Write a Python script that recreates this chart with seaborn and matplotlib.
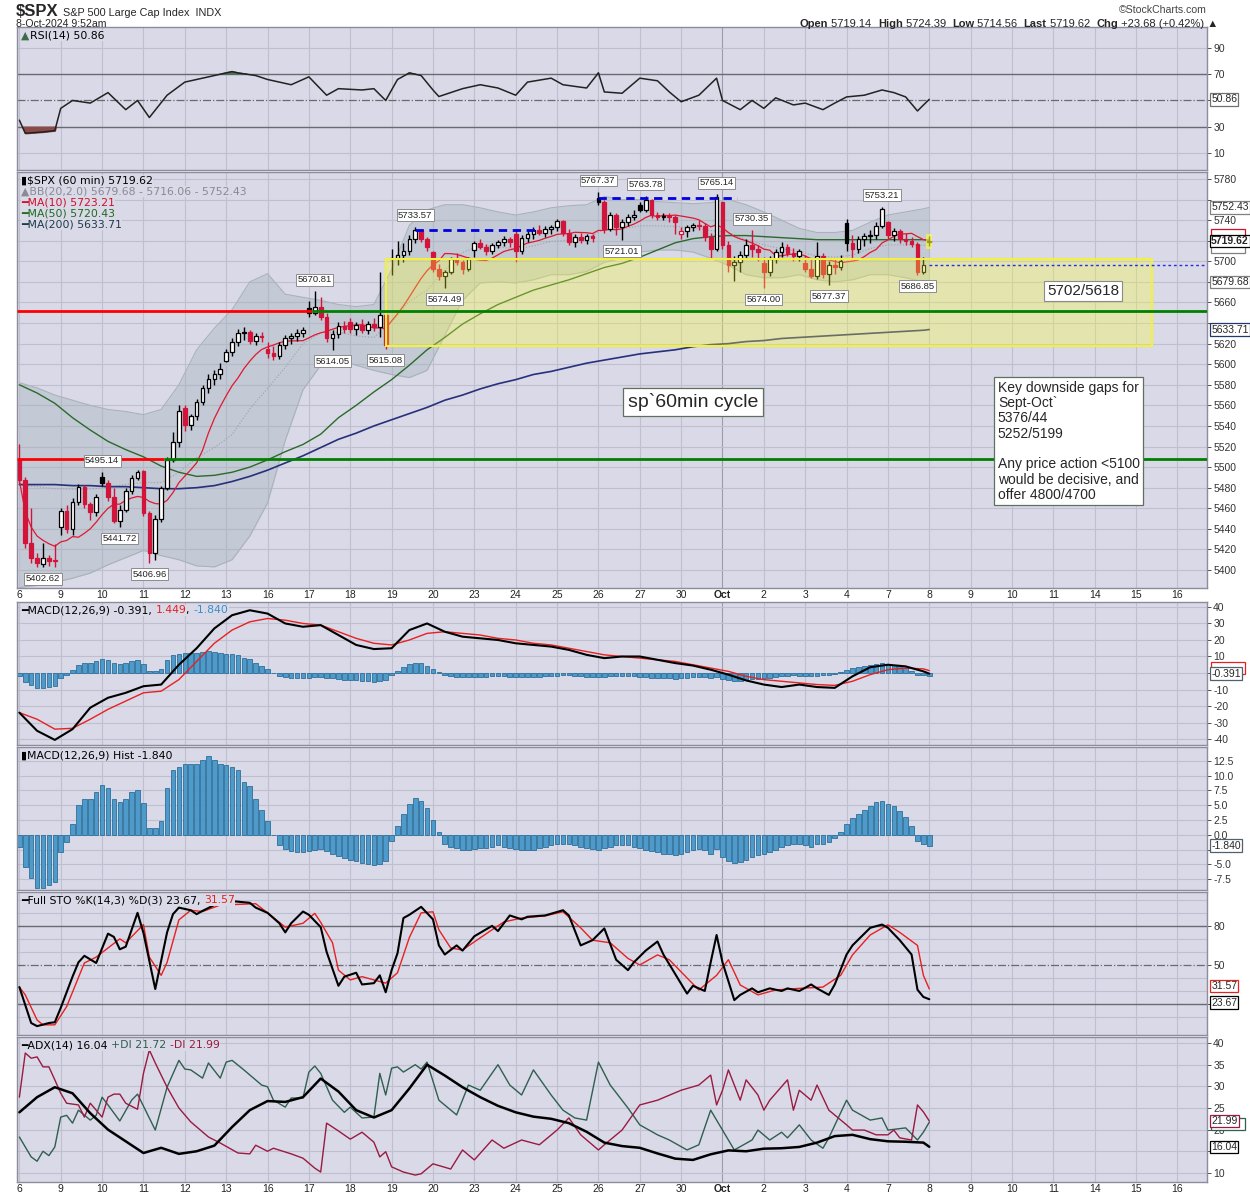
import matplotlib
matplotlib.use("Agg")
import matplotlib.pyplot as plt
import matplotlib.transforms as mtransforms
from matplotlib.patches import Rectangle
import numpy as np
import pandas as pd
import seaborn as sns

sns.set_style("white")
plt.rcParams["font.family"] = ["Liberation Sans", "DejaVu Sans"]

# ---------------- data ----------------
day_labels = ["6", "9", "10", "11", "12", "13", "16", "17", "18", "19", "20", "23", "24", "25",
              "26", "27", "30", "Oct", "2", "3", "4", "7", "8", "9", "10", "11", "14", "15", "16"]

# hourly candles, 7 bars per session (Sep 6 .. Oct 7) + first bar of Oct 8
opens = [
    5507, 5487, 5426, 5412, 5406, 5412, 5410,
    5442, 5457, 5440, 5466, 5481, 5464, 5456,
    5490, 5485, 5471, 5448, 5458, 5477, 5489,
    5496, 5455, 5417, 5450, 5480, 5507, 5524,
    5557, 5541, 5550, 5563, 5577, 5586, 5590,
    5603, 5612, 5622, 5630, 5631, 5623, 5627,
    5615, 5611, 5608, 5619, 5625, 5627, 5630,
    5655, 5650, 5656, 5646, 5625, 5629, 5637,
    5641, 5634, 5638, 5633, 5639, 5636, 5648,
    5702.6, 5703, 5706, 5710, 5722, 5730, 5722,
    5709, 5693, 5686, 5690, 5702, 5699, 5693,
    5711, 5718, 5714, 5710, 5716, 5719, 5722,
    5727, 5710, 5723, 5727, 5730, 5728, 5731,
    5733, 5739, 5728, 5719, 5724, 5721, 5725,
    5762, 5758, 5731, 5745, 5733, 5738, 5743,
    5755, 5750, 5760, 5745, 5743, 5744, 5743,
    5727, 5729, 5733, 5735, 5734, 5724, 5712,
    5757.7, 5716, 5696, 5699, 5706, 5716, 5712,
    5698.2, 5690, 5702, 5709, 5714, 5708, 5705,
    5698, 5693, 5686, 5705, 5688, 5696, 5694,
    5737.4, 5718, 5712, 5722, 5725, 5726, 5734,
    5737.8, 5726, 5729, 5722, 5720, 5717, 5690,
    5719.14,
]
highs = [
    5522, 5490, 5460, 5417, 5426, 5415, 5425,
    5460, 5463, 5470, 5484, 5483, 5466, 5474,
    5495.14, 5487, 5480, 5463, 5480, 5492, 5497,
    5497, 5457, 5453, 5482, 5510, 5534, 5560,
    5560, 5552, 5566, 5580, 5590, 5594, 5601,
    5615, 5625, 5634, 5636.3, 5633, 5630, 5631,
    5622, 5618, 5622, 5628, 5630, 5634, 5636,
    5661, 5670.81, 5665, 5650, 5633, 5641, 5642,
    5645, 5641, 5644, 5642, 5645, 5689.75, 5652,
    5712, 5720, 5718, 5726, 5733.57, 5731, 5724,
    5710, 5697, 5692, 5704, 5708, 5701, 5704,
    5720, 5722, 5717, 5718, 5721, 5725, 5724,
    5731, 5726, 5729, 5733, 5735, 5734, 5735.3,
    5741, 5740, 5731, 5727, 5728, 5727, 5727,
    5767.37, 5760, 5748, 5747, 5741, 5746, 5750,
    5758, 5763.78, 5761, 5748, 5747, 5747, 5745,
    5733, 5735, 5737, 5740, 5737, 5728, 5765.14,
    5757.7, 5720, 5705, 5710, 5722, 5730.35, 5716,
    5704, 5705, 5712, 5719.1, 5717, 5713, 5712,
    5706, 5702, 5718.78, 5708, 5700, 5702, 5706,
    5741, 5726, 5725, 5728, 5730, 5738, 5753.21,
    5739.3, 5732, 5731, 5728, 5724, 5719, 5704,
    5724.39,
]
lows = [
    5484, 5421, 5407, 5403, 5402.62, 5404, 5403,
    5434, 5436, 5434, 5463, 5460, 5449, 5452,
    5482, 5467, 5446, 5441.72, 5456, 5474, 5487,
    5452, 5406.96, 5410, 5447, 5478, 5505, 5520,
    5535, 5536, 5546, 5560, 5572, 5580, 5586,
    5601.7, 5608, 5618, 5624, 5620, 5619, 5622,
    5606, 5604.5, 5605, 5615, 5620, 5623, 5626,
    5646, 5648, 5643, 5622, 5614.05, 5625, 5630,
    5630, 5628, 5630, 5629, 5632, 5626, 5615.08,
    5686.4, 5696, 5699, 5706, 5718, 5719, 5710,
    5690, 5682, 5674.49, 5688, 5696, 5688, 5691,
    5704, 5712, 5706, 5707, 5713, 5715, 5714,
    5699, 5707, 5719, 5722, 5726, 5724, 5727,
    5729, 5725, 5716, 5714, 5718, 5717, 5719,
    5755, 5728, 5729, 5726, 5721.01, 5734, 5740,
    5748, 5748, 5742, 5740, 5740, 5738, 5727,
    5722, 5724, 5729, 5730, 5720, 5703.5, 5710,
    5712, 5690, 5681.3, 5690, 5702, 5704, 5700,
    5674.00, 5686, 5698, 5704, 5705, 5700, 5700,
    5690, 5684, 5683, 5684, 5677.37, 5688, 5692,
    5710, 5702.6, 5708, 5715, 5718, 5722, 5732,
    5722, 5720, 5718, 5716, 5714, 5686.85, 5688,
    5714.56,
]
closes = [
    5487, 5426, 5412, 5407, 5412, 5409, 5408.42,
    5457, 5440, 5466, 5481, 5464, 5456, 5471.05,
    5485, 5471, 5448, 5458, 5477, 5489, 5495.52,
    5455, 5417, 5450, 5480, 5507, 5524, 5554.13,
    5541, 5550, 5563, 5577, 5586, 5590, 5595.76,
    5612, 5622, 5630, 5631, 5623, 5627, 5626.02,
    5611, 5608, 5619, 5625, 5627, 5630, 5633.09,
    5650, 5656, 5646, 5625, 5629, 5637, 5634.58,
    5634, 5638, 5633, 5639, 5636, 5648, 5618.26,
    5703, 5706, 5710, 5722, 5730, 5722, 5713.64,
    5693, 5686, 5690, 5702, 5699, 5693, 5702.55,
    5718, 5714, 5710, 5716, 5719, 5722, 5718.57,
    5710, 5723, 5727, 5730, 5728, 5731, 5732.93,
    5739, 5728, 5719, 5724, 5721, 5725, 5722.26,
    5758, 5731, 5745, 5733, 5738, 5743, 5745.37,
    5750, 5760, 5745, 5743, 5744, 5743, 5738.17,
    5729, 5733, 5735, 5734, 5724, 5712, 5762.48,
    5716, 5696, 5699, 5706, 5716, 5712, 5708.75,
    5690, 5702, 5709, 5714, 5708, 5705, 5709.54,
    5693, 5686, 5705, 5688, 5696, 5694, 5699.94,
    5718, 5712, 5722, 5725, 5726, 5734, 5751.07,
    5726, 5729, 5722, 5720, 5717, 5690, 5695.94,
    5719.62,
]
prior_close = 5503.41

# smooth indicator readings, sampled every 3 bars (bar index) plus the last bar
samples = list(range(0, 154, 3)) + [154]
bb_upper = [5582, 5577, 5570, 5565, 5560, 5556, 5554, 5551, 5556, 5580,
            5614, 5635, 5653, 5680, 5688, 5668, 5665, 5662, 5658, 5656,
            5658, 5692, 5735, 5750, 5755, 5755, 5752, 5748, 5745, 5748,
            5752, 5754, 5755, 5763, 5760, 5760, 5758, 5757, 5756, 5757,
            5760, 5755, 5748, 5740, 5732, 5728, 5728, 5730, 5738, 5745,
            5748, 5751, 5752.43]
bb_lower = [5383, 5385, 5388, 5392, 5397, 5405, 5412, 5419, 5414, 5410,
            5404, 5403, 5410, 5433, 5465, 5526, 5575, 5599, 5604, 5599,
            5594, 5590, 5587, 5594, 5628, 5662, 5679, 5680, 5679, 5682,
            5687, 5687, 5690, 5699, 5703, 5709, 5711, 5711, 5709, 5703,
            5696, 5687, 5684, 5684, 5687, 5682, 5680, 5682, 5687, 5687,
            5684, 5680, 5679.68]
ma50 = [5580, 5572, 5562, 5548, 5536, 5525, 5517, 5510, 5501, 5495,
        5491, 5492, 5495, 5500, 5507, 5515, 5522, 5532, 5548, 5560,
        5573, 5585, 5599, 5614, 5626, 5639, 5649, 5658, 5665, 5672,
        5677, 5682, 5688, 5694, 5698, 5704, 5711, 5718, 5722, 5724,
        5725, 5725, 5724, 5723, 5722, 5721, 5721, 5721, 5721, 5721,
        5721, 5721, 5720.43]
ma200 = [5483, 5483, 5483, 5482, 5482, 5481, 5481, 5480, 5479, 5479,
         5480, 5482, 5486, 5491, 5497, 5504, 5511, 5519, 5527, 5533,
         5540, 5546, 5552, 5558, 5565, 5570, 5576, 5581, 5585, 5590,
         5593, 5597, 5601, 5604, 5607, 5610, 5612, 5614, 5617, 5619,
         5620, 5622, 5623, 5625, 5626, 5627, 5628, 5629, 5630, 5631,
         5632, 5633, 5633.71]
macd = [-24, -35, -40.5, -34, -21, -15, -12, -8, -7, 5,
        15, 27, 35, 38, 36, 30, 28, 29, 23, 17,
        14.5, 15, 26, 30, 25, 22, 21, 20, 18, 17,
        16, 14, 11, 9, 10, 10, 8, 6, 4.5, 2,
        -1, -4.5, -7, -8.5, -7, -8.5, -9, -2, 3.5, 5,
        4, 1, -0.391]
macd_signal = [-24, -28, -34, -33.5, -28, -22, -17, -12, -11, -4,
               7, 18, 26, 31, 33, 32, 30, 29, 25, 21,
               18, 17, 20, 24, 25, 24, 23, 21, 20, 18,
               17, 15, 13, 11, 10, 9, 8, 7, 5, 3,
               1, -2, -4, -5, -6, -7, -7.5, -5, -1, 2,
               3, 2.5, 1.449]
adx = [24, 27.5, 29.8, 28.4, 23.8, 20, 17.3, 14.6, 15.8, 14.4,
       15, 16.3, 20.6, 24.5, 26.6, 26.4, 27.5, 31.8, 28.8, 24.5,
       22.8, 24.5, 29.5, 35, 32.5, 29.8, 27.5, 25.5, 24, 23,
       22.5, 21.5, 19.5, 17, 16.2, 15.8, 14.5, 13.3, 13, 14.3,
       15.2, 15, 15.6, 15.7, 16, 17, 18.5, 18.8, 17.8, 17.3,
       17.2, 17, 16.04]

# jagged oscillators, read at their turning points (bar index, value)
rsi_bars = [0, 1, 4, 6, 7, 9, 12, 15, 18, 20,
            22, 25, 28, 31, 33, 36, 37, 40, 42, 46,
            49, 52, 54, 58, 60, 62, 64, 66, 68, 70,
            71, 75, 78, 81, 84, 86, 90, 92, 96, 98,
            99, 102, 105, 108, 110, 112, 115, 118, 119, 122,
            124, 126, 128, 131, 133, 136, 138, 140, 143, 146,
            148, 150, 152, 153, 154]
rsi = [35, 25, 26, 27, 44, 50, 48, 56, 43, 50,
       37, 54, 64, 67, 69, 72, 71, 69, 66, 62,
       68, 54, 59, 58, 59, 50, 66, 71, 69, 58,
       53, 59, 62, 59.5, 54, 64, 67, 62, 59.5, 71,
       56.5, 55.5, 67, 65, 56.5, 49, 54, 67, 50, 43,
       50, 44, 52, 46.6, 48, 43, 48, 52.7, 54, 58,
       56, 52.7, 42, 46.5, 50.86]
k_bars = [0, 2, 3, 5, 6, 7, 9, 10, 11, 13,
          15, 16, 17, 18, 20, 21, 23, 25, 26, 27,
          29, 30, 31, 33, 36, 39, 40, 42, 44, 45,
          46, 48, 49, 51, 52, 54, 55, 57, 58, 60,
          61, 62, 63, 64, 65, 66, 68, 70, 71, 72,
          74, 75, 77, 80, 81, 83, 85, 86, 89, 92,
          93, 95, 97, 99, 101, 103, 104, 106, 108, 109,
          111, 113, 114, 116, 117, 118, 119, 121, 122, 124,
          125, 127, 129, 130, 132, 134, 135, 137, 138, 140,
          141, 144, 146, 147, 149, 151, 152, 153, 154]
sto_k = [33, 5.4, 3, 5.4, 6, 17, 41, 52, 57, 51.5,
         74, 71.5, 62, 64, 90, 74.6, 31.5, 75, 89, 94,
         92, 89, 91.5, 96, 99, 97.7, 94, 90, 82, 75,
         82, 91, 88.5, 79, 60, 34, 41, 44, 35, 36,
         42, 29, 46, 59, 86, 88.5, 94.6, 85, 65, 58,
         65, 61, 72, 80, 76, 88, 85, 87, 88, 92,
         88, 65, 69, 78, 54, 46, 52, 61, 68, 58,
         43, 28, 34, 30, 52, 73, 52, 23, 27, 32,
         29, 32, 30, 32, 30, 35, 32, 27, 35, 58,
         65, 78.5, 81, 78.5, 69, 58, 31, 25.4, 23.67]
d_bars = [0, 1, 3, 4, 6, 8, 11, 13, 17, 18,
          21, 22, 24, 25, 27, 29, 31, 34, 40, 42,
          45, 48, 50, 51, 53, 54, 56, 58, 60, 62,
          64, 66, 68, 70, 71, 73, 75, 77, 80, 82,
          85, 89, 92, 95, 97, 100, 103, 105, 108, 110,
          113, 115, 118, 120, 122, 125, 128, 132, 136, 139,
          141, 144, 147, 149, 152, 153, 154]
sto_d = [33, 27, 7.7, 4, 4, 18, 51.5, 56, 70, 67,
         81, 56, 42, 52, 84.6, 92, 91, 96, 97, 90,
         79, 82, 89.6, 82.7, 67, 46, 38.5, 41, 38.5, 36,
         44, 71, 90, 90.8, 77, 63, 61.5, 67.7, 77, 83,
         86, 87.7, 90.8, 78.5, 69, 67, 55, 50, 57.7, 54,
         40, 30.8, 42, 54, 34.6, 27, 30.8, 32, 33, 42,
         57.7, 73, 80.8, 75, 65, 42, 31.57]
pdi_bars = [0, 1, 2, 3, 4, 5, 6, 7, 8, 9,
            10, 12, 13, 14, 15, 17, 19, 20, 23, 25,
            27, 28, 29, 31, 32, 34, 35, 36, 38, 41,
            42, 43, 45, 46, 48, 49, 50, 51, 53, 55,
            56, 58, 60, 61, 62, 63, 64, 65, 67, 68,
            69, 71, 74, 76, 78, 81, 83, 85, 87, 90,
            92, 94, 96, 98, 100, 103, 105, 108, 110, 113,
            115, 117, 119, 121, 124, 125, 127, 129, 130, 132,
            134, 136, 137, 140, 141, 144, 146, 147, 150, 152,
            153, 154]
plus_di = [18.3, 16, 13.7, 12.7, 15, 14, 16, 22.9, 23.3, 21.5,
           24.5, 22.2, 23.3, 27.5, 25.7, 22, 26.8, 28.2, 19.9, 29.8,
           36, 34, 33.8, 31.9, 35.4, 31.9, 35.6, 36, 33.8, 30.3,
           29.9, 26.8, 25.2, 27.3, 27.3, 33.3, 34.7, 33, 26.8, 24,
           25.2, 22.7, 22.9, 33, 28, 34.2, 34.5, 33.3, 35, 34,
           35.6, 26.8, 23.4, 30.3, 29.1, 35, 30.3, 28, 33.8, 28,
           24.5, 22.7, 22.2, 35.6, 30.3, 25, 21.1, 18.8, 17.6, 15.3,
           16.5, 24.5, 19.9, 15.3, 17.6, 19.9, 17.6, 19.4, 18.1, 21.1,
           17.6, 15.7, 18.1, 26.8, 24.5, 22.2, 22.7, 19.9, 20.4, 17.6,
           19.4, 21.72]
mdi_bars = [0, 1, 2, 3, 4, 5, 6, 7, 8, 10,
            11, 12, 14, 15, 16, 17, 18, 20, 21, 22,
            23, 25, 27, 29, 32, 34, 37, 39, 40, 42,
            43, 46, 48, 50, 51, 52, 54, 56, 58, 60,
            61, 62, 63, 65, 67, 68, 70, 73, 75, 77,
            80, 82, 85, 88, 91, 93, 95, 98, 99, 102,
            105, 108, 112, 115, 117, 118, 119, 120, 122, 123,
            125, 126, 127, 130, 131, 132, 134, 135, 137, 140,
            141, 143, 145, 147, 148, 149, 151, 152, 153, 154]
minus_di = [27.5, 37.7, 36.5, 36.8, 34.5, 34.5, 31.5, 28.4, 26.1, 25.7,
            22.9, 26.1, 22.9, 27.5, 28.2, 28.2, 26.1, 24.7, 33, 38.4,
            35.4, 29.8, 25, 21.8, 18.3, 16.9, 14.6, 14.4, 16.4, 15,
            15.7, 14.4, 13.4, 11.1, 10.2, 21.5, 19.7, 17.8, 19.4, 17.1,
            13.7, 14.9, 11.4, 10.2, 9.5, 9.8, 12.1, 10.9, 15.3, 13,
            17.6, 15.7, 17.6, 16.5, 19.9, 22.7, 18.8, 15.3, 16.5, 19.9,
            25.7, 26.8, 29.1, 30.3, 32.6, 25.7, 29.1, 33.8, 26.8, 31.5,
            28, 24.5, 26.8, 31.5, 24.5, 29.1, 26.8, 30.3, 24.5, 21.1,
            19.9, 19.9, 18.8, 18.8, 19.9, 18.1, 17.6, 25.7, 24.1, 21.99]

# MACD histogram, one value per bar
macd_hist = [
    -2, -5.5, -7.3, -9, -9, -8.5, -8, -3, -1.2, 1.8,
    5, 6, 6, 7.3, 8.5, 8, 6, 5.6, 6, 7.3,
    7.6, 5.4, 1.2, 1.2, 2.4, 7.9, 11, 11.5, 12, 12,
    12, 12.7, 13.3, 12.7, 12, 11.8, 11.5, 11, 9, 8.3,
    6, 4.2, 2.4, 0, -1.8, -2.4, -2.8, -3, -3, -2.8,
    -2.6, -2.4, -2.8, -3.2, -3.6, -4, -4.3, -4.5, -4.8, -5,
    -5.2, -5, -4.5, -1, 1.5, 3.5, 5.2, 6.2, 5.8, 4.5,
    2.5, 0.5, -1.5, -2, -2.3, -2.6, -2.6, -2.4, -2.2, -2.2,
    -2, -1.8, -2, -2.2, -2.4, -2.5, -2.6, -2.5, -2.3, -2,
    -1.8, -1.6, -1.5, -1.5, -1.7, -2, -2.2, -2.4, -2.5, -2.2,
    -2, -1.8, -1.7, -1.8, -2, -2.2, -2.5, -2.8, -3, -3.2,
    -3.3, -3.5, -3.3, -3, -2.6, -2.4, -2.6, -3.2, -2.4, -3.8,
    -4.5, -4.8, -4.6, -4.2, -3.8, -3.5, -3.2, -3, -2.5, -2,
    -1.8, -1.5, -1.6, -1.8, -2, -1.6, -1.5, -1.2, -0.5, 0.5,
    1.8, 2.8, 3.5, 4.2, 4.8, 5.5, 5.8, 5.2, 4.8, 4,
    3, 1.5, -1, -1.5, -1.84,
]

# labelled swing points (bar index)
high_marks = [14, 50, 67, 98, 106, 118, 124, 146]
low_marks = [4, 17, 22, 53, 62, 72, 102, 126, 137, 152]
gap_zone = (5618, 5702)
support_levels = [5652, 5508]
resistance_dash = [5730, 5762]
last_close_prev = 5695.94

# ---------------- style ----------------
panel_bg = "#D9D9E7"
grid_c = "#BFBFD0"
spine_c = "#8C8C9C"
red_c = "#D2143A"
x_lo, x_hi = -0.4, 201
day_pos = [7 * i for i in range(len(day_labels))]
oct_pos = day_pos[day_labels.index("Oct")]

fig = plt.figure(figsize=(12.5, 12), dpi=100)
W, H = 1250, 1200


def make_ax(top, bottom):
    ax = fig.add_axes([17 / W, 1 - bottom / H, 1190 / W, (bottom - top) / H])
    ax.panel_px = bottom - top
    return ax


def style(ax, ylim, ticks, labels=None, grid_ticks=None, hide=()):
    ax.set_facecolor(panel_bg)
    ax.set_xlim(x_lo, x_hi)
    ax.set_ylim(*ylim)
    ax.yaxis.tick_right()
    ax.set_yticks(ticks)
    if labels is None:
        labels = [f"{v:g}" for v in ticks]
    # labels covered by the value tags are left blank, as in the reference
    px = (ylim[1] - ylim[0]) / ax.panel_px
    labels = ["" if any(abs(v - h) < 8 * px for h in hide) else lab
              for v, lab in zip(ticks, labels)]
    ax.set_yticklabels(labels)
    ax.tick_params(axis="y", length=3, width=0.6, labelsize=7.5, pad=1.5,
                   colors="#333333", direction="out")
    ax.set_xticks(day_pos)
    ax.tick_params(axis="x", length=0, labelbottom=False)
    for x in day_pos:
        ax.axvline(x, color="#9C9CAE" if x == oct_pos else grid_c, lw=0.8, zorder=0)
    for y in (grid_ticks if grid_ticks is not None else ticks):
        ax.axhline(y, color=grid_c, lw=0.8, zorder=0)
    for s in ax.spines.values():
        s.set_color(spine_c)
        s.set_linewidth(1)


def finish(ax):
    ax.set_xlim(x_lo, x_hi)
    ax.set_xlabel("")
    ax.set_ylabel("")


def legend(ax, row, parts, size=7.8):
    t = ax.annotate(parts[0][0], xy=(0, 1), xycoords="axes fraction",
                    xytext=(3, -2.5 - 8 * row), textcoords="offset points",
                    va="top", ha="left", color=parts[0][1], fontsize=size,
                    family="DejaVu Sans", zorder=30,
                    bbox=dict(fc=panel_bg, ec="none", pad=0.3))
    for s, c in parts[1:]:
        t = ax.annotate(s, xy=(1, 0), xycoords=t, va="bottom", ha="left",
                        color=c, fontsize=size, family="DejaVu Sans", zorder=30,
                        bbox=dict(fc=panel_bg, ec="none", pad=0.3))


def tag(ax, val, text, ec, bold=False, dy=0):
    ax.annotate(text, xy=(1, val), xycoords=("axes fraction", "data"),
                xytext=(3, dy), textcoords="offset points", va="center", ha="left",
                fontsize=7.5, fontweight="bold" if bold else "normal",
                bbox=dict(boxstyle="square,pad=0.12", fc="white", ec=ec, lw=0.9),
                annotation_clip=False, zorder=40)


def hidden_tag(ax, val, ec, dy_px=0):
    # value tag that sits behind another one: only its frame peeks out
    lo, hi = ax.get_ylim()
    px = (hi - lo) / ax.panel_px
    trans = mtransforms.blended_transform_factory(ax.transAxes, ax.transData)
    ax.add_patch(Rectangle((1 + 4 / 1190, val - 6 * px + dy_px * px), 34 / 1190, 12 * px,
                           transform=trans, fc="white", ec=ec, lw=0.9,
                           clip_on=False, zorder=35))


def xlabels(ax):
    ax.tick_params(axis="x", labelbottom=True, labelsize=7.5, pad=1.5, colors="#222222")
    ax.set_xticklabels(day_labels)
    for lab in ax.get_xticklabels():
        if lab.get_text() == "Oct":
            lab.set_fontweight("bold")


# ---------------- header ----------------
fig.text(16 / W, 1 - 16 / H, "$SPX", fontsize=12, fontweight="bold", va="baseline")
fig.text(63 / W, 1 - 16 / H, "S&P 500 Large Cap Index  INDX", fontsize=7.8, va="baseline")
fig.text(16 / W, 1 - 27 / H, "8-Oct-2024 9:52am", fontsize=7.6, va="baseline")
fig.text(1207 / W, 1 - 13 / H, "\u00a9StockCharts.com", fontsize=7.6, ha="right",
         va="baseline", color="#444444")
hdr = [("Open", "bold"), (" 5719.14  ", "normal"), ("High", "bold"), (" 5724.39  ", "normal"),
       ("Low", "bold"), (" 5714.56  ", "normal"), ("Last", "bold"), (" 5719.62  ", "normal"),
       ("Chg", "bold"), (" +23.68 (+0.42%) \u25b2", "normal")]
prev = fig.text(800 / W, 1 - 27 / H, hdr[0][0], fontsize=8, fontweight="bold", va="baseline")
for s, w in hdr[1:]:
    prev = fig.add_artist(matplotlib.text.Annotation(
        s, xy=(1, 0), xycoords=prev, va="bottom", ha="left", fontsize=8, fontweight=w))

# ---------------- RSI ----------------
ax = make_ax(27, 170)
style(ax, (-3, 106), [10, 30, 50, 70, 90], grid_ticks=[10, 90], hide=[50.86])
ax.axhline(70, color="#6A6A72", lw=1, zorder=1)
ax.axhline(30, color="#6A6A72", lw=1, zorder=1)
ax.axhline(50, color="#6A6A72", lw=0.9, ls="-.", zorder=1)
rs = np.array(rsi, dtype=float)
ax.fill_between(rsi_bars, rs, 30, where=rs < 30, interpolate=True, color="#8A4A4A", zorder=2)
ax.fill_between(rsi_bars, rs, 70, where=rs > 70, interpolate=True, color="#4E6E58", zorder=2)
sns.lineplot(x=rsi_bars, y=rsi, ax=ax, color="#222222", lw=1.1, legend=False, zorder=3)
finish(ax)
legend(ax, 0, [("\u25b2", "#3E6B4A"), ("RSI(14) 50.86", "black")])
tag(ax, 50.86, "50.86", "#707070")

# ---------------- price ----------------
ax = make_ax(172, 588)
price_ticks = list(range(5400, 5781, 20))
tags_price = [5752.43, 5719.62, 5679.68, 5633.71]
style(ax, (5382.5, 5786.8), price_ticks, hide=tags_price)
ax.fill_between(samples, bb_lower, bb_upper, color="#A3B2BA", alpha=0.4, lw=0, zorder=1)
sns.lineplot(x=samples, y=bb_upper, ax=ax, color="#A9B2BA", lw=0.8, legend=False, zorder=1)
sns.lineplot(x=samples, y=bb_lower, ax=ax, color="#A9B2BA", lw=0.8, legend=False, zorder=1)
bb_mid = (np.array(bb_upper) + np.array(bb_lower)) / 2
ax.plot(samples, bb_mid, color="#A0A0A8", lw=0.8, ls=":", zorder=1)
sns.lineplot(x=samples, y=ma200, ax=ax, color="#27307A", lw=1.2, legend=False, zorder=2)
sns.lineplot(x=samples, y=ma50, ax=ax, color="#2A6A2A", lw=1.0, legend=False, zorder=2)
ma10 = pd.Series(closes).rolling(10, min_periods=1).mean()
bars = np.arange(len(closes))
sns.lineplot(x=bars, y=ma10.values, ax=ax, color="#E01830", lw=0.9, legend=False, zorder=2)

o = np.array(opens)
c = np.array(closes)
prev_c = np.concatenate([[prior_close], c[:-1]])
col = [red_c if cc < pc else "black" for cc, pc in zip(c, prev_c)]
face = [k if cc < oo else "white" for k, cc, oo in zip(col, c, o)]
ax.vlines(bars, lows, highs, colors=col, lw=1, zorder=4)
body_lo = np.minimum(o, c)
body_h = np.maximum(np.abs(c - o), 0.8)
ax.bar(bars, body_h, bottom=body_lo, width=0.62, color=face, edgecolor=col, lw=0.9, zorder=4)

# support lines: red on the left part, green afterwards
ax.hlines(support_levels[0], x_lo, 49.5, color="#FF0000", lw=2, zorder=7)
ax.hlines(support_levels[0], 49.5, x_hi, color="#008000", lw=2, zorder=7)
ax.hlines(support_levels[1], x_lo, 24.5, color="#FF0000", lw=2, zorder=7)
ax.hlines(support_levels[1], 24.5, x_hi, color="#008000", lw=2, zorder=7)
ax.hlines(resistance_dash[0], 67, 88, color="#0000E0", lw=2, ls=(0, (3, 2)), zorder=7)
ax.hlines(resistance_dash[1], 98, 121.5, color="#0000E0", lw=2, ls=(0, (3, 2)), zorder=7)
ax.hlines(last_close_prev, 154, x_hi, color="#2030E0", lw=1, ls=(0, (2, 2)), zorder=7)

# user highlighted zone
ax.fill_between([62, 191.7], gap_zone[0], gap_zone[1], color="#FFFF30", alpha=0.3,
                lw=0, zorder=6)
ax.plot([62, 191.7, 191.7, 62, 62],
        [gap_zone[0], gap_zone[0], gap_zone[1], gap_zone[1], gap_zone[0]],
        color="#F2F040", lw=1.5, zorder=6)
ax.fill_between([153.5, 154.5], 5712, 5727, color="#FFFF30", alpha=0.6, lw=0, zorder=6)

for b in high_marks:
    ax.annotate(f"{highs[b]:.2f}", xy=(b, highs[b]), xytext=(0, 5), textcoords="offset points",
                ha="center", va="bottom", fontsize=6.8, zorder=8,
                bbox=dict(boxstyle="square,pad=0.15", fc="white", ec="#8C8C8C", lw=0.7))
for b in low_marks:
    ax.annotate(f"{lows[b]:.2f}", xy=(b, lows[b]), xytext=(0, -5), textcoords="offset points",
                ha="center", va="top", fontsize=6.8, zorder=8,
                bbox=dict(boxstyle="square,pad=0.15", fc="white", ec="#8C8C8C", lw=0.7))

ax.text(180, 5671, "5702/5618", fontsize=11, ha="center", va="center", zorder=9,
        bbox=dict(boxstyle="square,pad=0.2", fc="white", ec="#8A8A8A", lw=0.8))
ax.text(114, 5563, "sp`60min cycle", fontsize=14, ha="center", va="center", zorder=9,
        bbox=dict(boxstyle="square,pad=0.25", fc="white", ec="#607060", lw=0.9))
ax.text(165.6, 5584, "Key downside gaps for\nSept-Oct`\n5376/44\n5252/5199\n\n"
        "Any price action <5100\nwould be decisive, and\noffer 4800/4700",
        fontsize=10, ha="left", va="top", linespacing=1.12, zorder=9,
        bbox=dict(boxstyle="square,pad=0.25", fc="white", ec="#607060", lw=0.9))

finish(ax)
legend(ax, 0, [("\u25ae$SPX (60 min) 5719.62", "black")])
legend(ax, 1, [("\u25b2BB(20,2.0) 5679.68 - 5716.06 - 5752.43", "#8A8A94")])
legend(ax, 2, [("\u2501MA(10) 5723.21", "#D0102A")])
legend(ax, 3, [("\u2501MA(50) 5720.43", "#1E6B1E")])
legend(ax, 4, [("\u2501MA(200) 5633.71", "#1F3A4A")])
tag(ax, 5752.43, "5752.43", "#808080")
hidden_tag(ax, 5723.21, "#D0102A", dy_px=2)
hidden_tag(ax, 5716.06, "#808080", dy_px=-2)
tag(ax, 5719.62, "5719.62", "black", bold=True)
tag(ax, 5679.68, "5679.68", "#808080")
tag(ax, 5633.71, "5633.71", "#1F3A6A")
xlabels(ax)

# ---------------- MACD ----------------
ax = make_ax(602, 745)
style(ax, (-43.6, 43), list(range(-40, 41, 10)), hide=[-0.391])
ax.bar(bars, macd_hist, width=0.78, color="#4E9BCB", edgecolor="#2D6F99", lw=0.6, zorder=2)
sns.lineplot(x=samples, y=macd_signal, ax=ax, color="#E82020", lw=1.0, legend=False, zorder=3)
sns.lineplot(x=samples, y=macd, ax=ax, color="black", lw=1.5, legend=False, zorder=4)
finish(ax)
legend(ax, 0, [("\u2501MACD(12,26,9) -0.391, ", "black"), ("1.449", "#E82020"),
               (", ", "black"), ("-1.840", "#3A8FC8")])
hidden_tag(ax, 1.449, "#E82020", dy_px=3)
tag(ax, -0.391, "-0.391", "#506070")

# ---------------- histogram ----------------
ax = make_ax(747, 890)
hticks = [-7.5, -5, -2.5, 0, 2.5, 5, 7.5, 10, 12.5]
style(ax, (-9.36, 14.87), hticks, [f"{v:.1f}" for v in hticks], hide=[-1.84])
ax.bar(bars, macd_hist, width=0.78, color="#4E9BCB", edgecolor="#2D6F99", lw=0.6, zorder=2)
finish(ax)
legend(ax, 0, [("\u25aeMACD(12,26,9) Hist -1.840", "black")])
tag(ax, -1.84, "-1.840", "#506070")

# ---------------- stochastics ----------------
ax = make_ax(892, 1035)
style(ax, (-3.8, 106), [20, 50, 80], grid_ticks=[10, 30, 40, 60, 70, 90, 100],
      hide=[23.67])
ax.axhline(80, color="#6A6A72", lw=1, zorder=1)
ax.axhline(20, color="#6A6A72", lw=1, zorder=1)
ax.axhline(50, color="#6A6A72", lw=0.9, ls="-.", zorder=1)
sns.lineplot(x=d_bars, y=sto_d, ax=ax, color="#E82020", lw=1.0, legend=False, zorder=3)
sns.lineplot(x=k_bars, y=sto_k, ax=ax, color="black", lw=1.5, legend=False, zorder=4)
finish(ax)
legend(ax, 0, [("\u2501Full STO %K(14,3) %D(3) 23.67, ", "black"), ("31.57", "#E82020")])
tag(ax, 31.57, "31.57", "#E82020", dy=2)
tag(ax, 23.67, "23.67", "black", dy=-2.5)

# ---------------- ADX ----------------
ax = make_ax(1037, 1182)
style(ax, (7.9, 41.4), list(range(10, 41, 5)), hide=[21.99, 16.04])
sns.lineplot(x=pdi_bars, y=plus_di, ax=ax, color="#2F5F4F", lw=1.0, legend=False, zorder=3)
sns.lineplot(x=mdi_bars, y=minus_di, ax=ax, color="#9A1A40", lw=1.0, legend=False, zorder=3)
sns.lineplot(x=samples, y=adx, ax=ax, color="black", lw=1.8, legend=False, zorder=4)
finish(ax)
legend(ax, 0, [("\u2501ADX(14) 16.04 ", "black"), ("+DI 21.72 ", "#2F5F4F"),
               ("-DI 21.99", "#9A1A40")])
hidden_tag(ax, 21.72, "#2F5F4F", dy_px=-2)
tag(ax, 21.99, "21.99", "#9A1A40")
tag(ax, 16.04, "16.04", "black")
xlabels(ax)

fig.savefig("out.png", dpi=100, facecolor="white")
